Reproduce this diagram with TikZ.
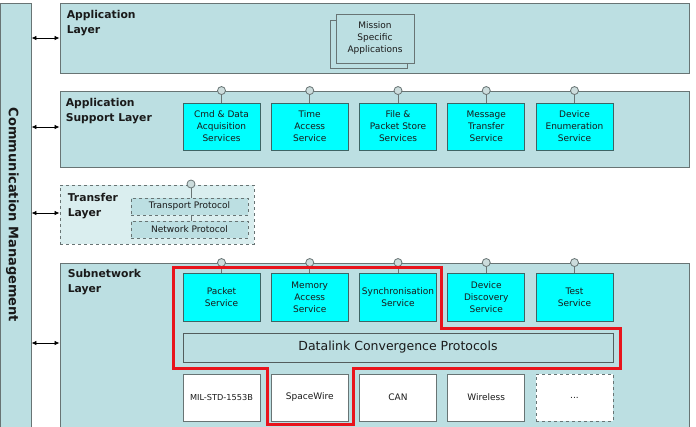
\documentclass[tikz,border=0pt]{standalone}
\usepackage{fontspec}
\setmainfont{DejaVu Sans}
\usetikzlibrary{calc, positioning, arrows, arrows.meta}
\definecolor{layerteal}{HTML}{BCDFE2}
\definecolor{transferteal}{HTML}{DAEEEF}
\definecolor{servcyan}{HTML}{00FFFF}
\definecolor{edgegrey}{HTML}{687474}
\definecolor{servedge}{HTML}{3E6464}
\definecolor{knobgrey}{HTML}{CCDCDC}
\definecolor{outlinered}{HTML}{E8141C}
\definecolor{textdark}{HTML}{1A1A1A}

\begin{document}
\begin{tikzpicture}[x=1pt, y=-1pt]
        \useasboundingbox (0,0) rectangle (696,426);

        \tikzstyle{layer} = [draw=edgegrey, fill=layerteal, line width=0.9pt, inner sep=0pt];
        \tikzstyle{layerlabel} = [anchor=north west, align=left, inner sep=0pt, text=textdark, font=\bfseries\fontsize{10.8}{15}\selectfont];
        \tikzstyle{service} = [draw=servedge, fill=servcyan, line width=0.8pt, minimum width=77, minimum height=47, inner sep=0pt, align=center, text=textdark, font=\fontsize{9}{12}\selectfont];
        \tikzstyle{knob} = [draw=edgegrey, fill=knobgrey, circle, minimum size=8, inner sep=0pt, line width=0.8pt];
        \tikzstyle{link} = [{Latex[length=5pt, width=4.5pt]}-{Latex[length=5pt, width=4.5pt]}, line width=0.8pt, black];

        % communication management column
        \node [layer, minimum width=31, minimum height=427] (cm) at (15.5, 216.5) {};
        \node [rotate=-90, text=textdark, font=\bfseries\fontsize{13}{15}\selectfont] (cmtext) at (12.5, 215) {Communication Management};

        % layers
        \node [layer, minimum width=629, minimum height=70]  (al)  at (374.5, 38) {};
        \node [layer, minimum width=629, minimum height=76]  (asl) at (374.5, 129) {};
        \node [layer, dashed, fill=transferteal, minimum width=194, minimum height=59] (tl) at (157, 214.5) {};
        \node [layer, minimum width=629, minimum height=177] (snl) at (374.5, 351.5) {};

        \node [layerlabel] (allabel)  at ($(al.north west)  + (7, 8)$) {Application\\Layer};
        \node [layerlabel] (asllabel) at ($(asl.north west) + (6, 8)$) {Application\\Support Layer};
        \node [layerlabel] (tllabel)  at ($(tl.north west)  + (8, 9)$) {Transfer\\Layer};
        \node [layerlabel] (snllabel) at ($(snl.north west) + (8, 7)$) {Subnetwork\\Layer};

        \draw [link] (cm.east |- al.west) -- (al.west);
        \draw [link] ($(cm.east |- asl.west) + (0, -2)$) -- ($(asl.west) + (0, -2)$);
        \draw [link] ($(cm.east |- tl.west) + (0, -1.5)$) -- ($(tl.west) + (0, -1.5)$);
        \draw [link] ($(cm.east |- snl.west) + (0, -8.5)$) -- ($(snl.west) + (0, -8.5)$);

        % mission specific applications
        \node [draw=edgegrey, fill=layerteal, line width=0.8pt, minimum width=77, minimum height=48] (msaback) at (368.5, 44) {};
        \node [draw=edgegrey, fill=layerteal, line width=0.8pt, minimum width=78, minimum height=49, align=center, inner sep=0pt, text=textdark, font=\fontsize{9}{12}\selectfont] (msa) at (375, 38.5) {Mission\\Specific\\Applications};

        % application support services
        \foreach \i/\txt in {1/{Cmd \& Data\\Acquisition\\Services}, 2/{Time\\Access\\Service}, 3/{File \&\\Packet Store\\Services}, 4/{Message\\Transfer\\Service}, 5/{Device\\Enumeration\\Service}}{
            \node [service] (asl\i) at ({221.5 + 88.25*(\i - 1)}, 126.5) {\txt};
            \node [knob] (asl\i k) at (asl\i.north |- asl.north) {};
            \draw [edgegrey, line width=0.8pt] (asl\i k) -- (asl\i);
        }

        % transfer protocols
        \tikzstyle{proto} = [draw=edgegrey, dashed, fill=layerteal, line width=0.8pt, minimum width=117, minimum height=17, inner sep=0pt, text=textdark, font=\fontsize{9}{11}\selectfont];
        \node [proto] (tp) at (189.5, 206.5) {Transport Protocol};
        \node [proto] (np) at (189.5, 229.5) {Network Protocol};
        \node [knob] (tlk) at (191, 184) {};
        \draw [edgegrey, line width=0.8pt] (tlk) -- (tlk |- tp.north);
        \draw [edgegrey, line width=0.8pt] (tlk |- tp.south) -- (tlk |- np.north);

        % subnetwork services
        \foreach \i/\txt in {1/{Packet\\Service}, 2/{Memory\\Access\\Service}, 3/{Synchronisation\\Service}, 4/{Device\\Discovery\\Service}, 5/{Test\\Service}}{
            \node [service, minimum height=48] (snl\i) at ({221.5 + 88.25*(\i - 1)}, 297) {\txt};
            \node [knob] (snl\i k) at (snl\i.north |- snl.north) {};
            \draw [edgegrey, line width=0.8pt] (snl\i k) -- (snl\i);
        }

        \node [draw=edgegrey!80!black, fill=layerteal, line width=0.9pt, minimum width=430, minimum height=29, inner sep=0pt, text=textdark, font=\fontsize{12.5}{14}\selectfont] (dl) at (398, 347.5) {Datalink Convergence Protocols};

        % physical links
        \tikzstyle{phy} = [service, fill=white, draw=edgegrey];
        \foreach \i/\txt in {1/{\fontsize{8.2}{10}\selectfont MIL-STD-1553B}, 2/SpaceWire, 3/CAN, 4/Wireless}{
            \node [phy] (phy\i) at ({221.5 + 88.25*(\i - 1)}, 397.5) {\txt};
        }
        \node [phy, dashed] (phy5) at ({221.5 + 88.25*4}, 397.5) {...};

        % highlighted region
        \draw [outlinered, line width=3pt, line join=miter]
            (173, 267) -- (441.5, 267) -- (441.5, 328) -- (620, 328) -- (620, 368.5)
            -- (353, 368.5) -- (353, 424.5) -- (267, 424.5) -- (267, 368.5) -- (173, 368.5) -- cycle;
    \end{tikzpicture}
\end{document}
